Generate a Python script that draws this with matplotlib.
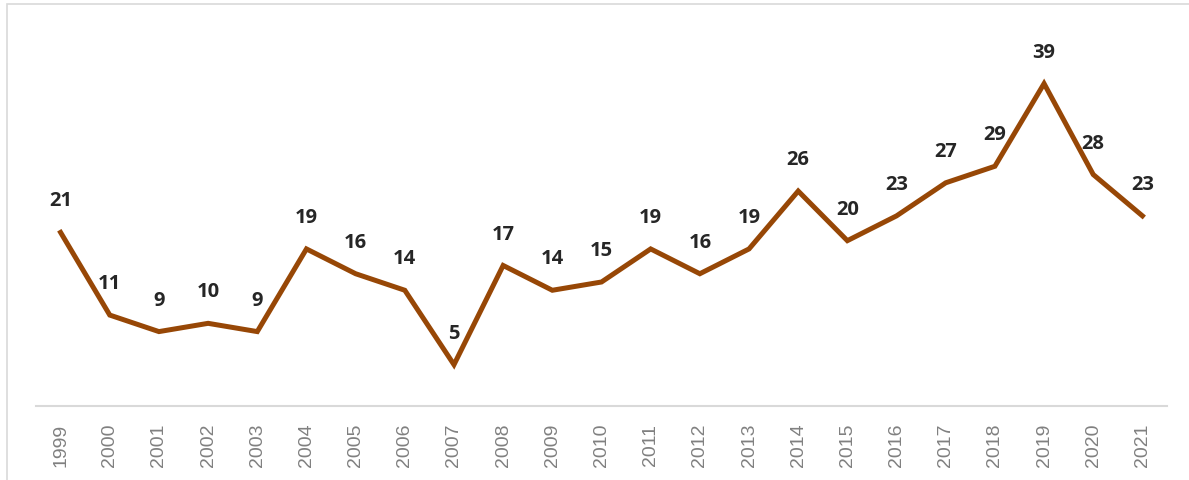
import matplotlib.pyplot as plt
from matplotlib.patches import Rectangle

# datos del grafico
anios = [str(a) for a in range(1999, 2022)]
valores = [21, 11, 9, 10, 9, 19, 16, 14, 5, 17, 14, 15, 19, 16, 19, 26, 20, 23, 27, 29, 39, 28, 23]

W, H = 1189, 481
fig = plt.figure(figsize=(W / 100, H / 100), dpi=100)
fig.patch.set_facecolor('white')

# marco gris del area del grafico
fig.patches.append(Rectangle((7 / W, -0.1), 1.2, 1 - 5 / H + 0.1, transform=fig.transFigure,
                             fill=False, edgecolor='#d9d9d9', linewidth=1.2))

ax = fig.add_axes([36 / W, 74 / H, (1167 - 36) / W, (405 - 33) / H])
x = list(range(len(anios)))
ax.plot(x, valores, color='#974706', linewidth=3.6, solid_joinstyle='miter')

for xi, v in zip(x, valores):
    ax.annotate(str(v), (xi, v), xytext=(0, 23), textcoords='offset points',
                ha='center', va='center', fontsize=14.5, fontweight='bold',
                color='#262626', family=['Open Sans', 'DejaVu Sans'])

ax.set_xlim(-0.5, len(anios) - 0.5)
ax.set_ylim(0, 45)
ax.set_xticks(x)
ax.set_xticklabels(anios, rotation=90, fontsize=14, color='#808080', family='Liberation Sans')
ax.tick_params(axis='x', length=0, pad=12)
ax.set_yticks([])
for s in ['top', 'right', 'left']:
    ax.spines[s].set_visible(False)
ax.spines['bottom'].set_color('#d9d9d9')
ax.spines['bottom'].set_linewidth(1.5)

plt.savefig('out.png', dpi=100)
